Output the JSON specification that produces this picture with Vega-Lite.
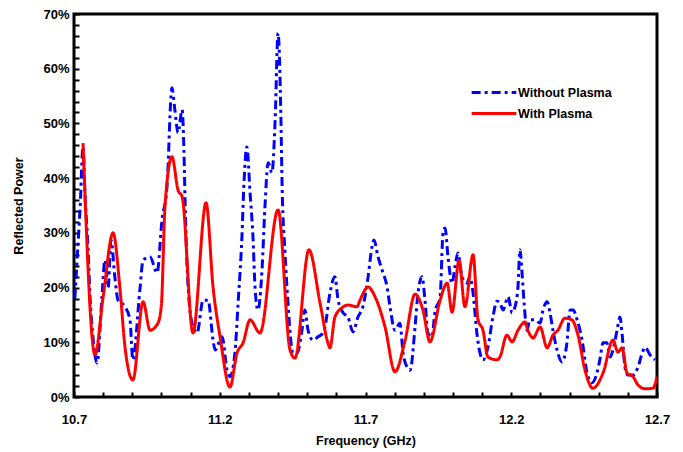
{
  "$schema": "https://vega.github.io/schema/vega-lite/v6.json",
  "autosize": "none",
  "width": 583,
  "height": 383,
  "padding": {"left": 74, "top": 14, "right": 26, "bottom": 55},
  "background": "white",
  "config": {
    "view": {"stroke": "black", "strokeWidth": 3},
    "font": "Liberation Sans",
    "axis": {"grid": false, "domain": false, "labelFont": "Liberation Sans", "labelFontWeight": "bold", "labelFontSize": 13, "labelColor": "black", "titleFont": "Liberation Sans", "titleFontWeight": "bold", "titleFontSize": 12.5, "titleColor": "black", "tickColor": "black", "tickWidth": 2}
  },
  "data": {"values": [
    {"f": 10.703, "v": 18, "s": "Without Plasma"},
    {"f": 10.710, "v": 24.5, "s": "Without Plasma"},
    {"f": 10.721, "v": 34.7, "s": "Without Plasma"},
    {"f": 10.731, "v": 45.7, "s": "Without Plasma"},
    {"f": 10.738, "v": 36.6, "s": "Without Plasma"},
    {"f": 10.748, "v": 27.4, "s": "Without Plasma"},
    {"f": 10.755, "v": 18.3, "s": "Without Plasma"},
    {"f": 10.765, "v": 11, "s": "Without Plasma"},
    {"f": 10.779, "v": 6.2, "s": "Without Plasma"},
    {"f": 10.796, "v": 18.3, "s": "Without Plasma"},
    {"f": 10.806, "v": 25, "s": "Without Plasma"},
    {"f": 10.817, "v": 20, "s": "Without Plasma"},
    {"f": 10.827, "v": 28.7, "s": "Without Plasma"},
    {"f": 10.840, "v": 22, "s": "Without Plasma"},
    {"f": 10.851, "v": 17.7, "s": "Without Plasma"},
    {"f": 10.875, "v": 16.5, "s": "Without Plasma"},
    {"f": 10.892, "v": 14.1, "s": "Without Plasma"},
    {"f": 10.902, "v": 6.8, "s": "Without Plasma"},
    {"f": 10.926, "v": 19.6, "s": "Without Plasma"},
    {"f": 10.937, "v": 25, "s": "Without Plasma"},
    {"f": 10.961, "v": 25.6, "s": "Without Plasma"},
    {"f": 10.985, "v": 22.7, "s": "Without Plasma"},
    {"f": 11.002, "v": 32.4, "s": "Without Plasma"},
    {"f": 11.019, "v": 38.4, "s": "Without Plasma"},
    {"f": 11.036, "v": 56.5, "s": "Without Plasma"},
    {"f": 11.046, "v": 52.5, "s": "Without Plasma"},
    {"f": 11.057, "v": 48.3, "s": "Without Plasma"},
    {"f": 11.071, "v": 52.5, "s": "Without Plasma"},
    {"f": 11.077, "v": 45.2, "s": "Without Plasma"},
    {"f": 11.081, "v": 36, "s": "Without Plasma"},
    {"f": 11.088, "v": 23.8, "s": "Without Plasma"},
    {"f": 11.105, "v": 13.5, "s": "Without Plasma"},
    {"f": 11.122, "v": 11.7, "s": "Without Plasma"},
    {"f": 11.143, "v": 17.7, "s": "Without Plasma"},
    {"f": 11.160, "v": 17.7, "s": "Without Plasma"},
    {"f": 11.177, "v": 10.4, "s": "Without Plasma"},
    {"f": 11.184, "v": 8.6, "s": "Without Plasma"},
    {"f": 11.208, "v": 11, "s": "Without Plasma"},
    {"f": 11.225, "v": 4.9, "s": "Without Plasma"},
    {"f": 11.235, "v": 3.7, "s": "Without Plasma"},
    {"f": 11.252, "v": 8, "s": "Without Plasma"},
    {"f": 11.263, "v": 17.2, "s": "Without Plasma"},
    {"f": 11.276, "v": 29.2, "s": "Without Plasma"},
    {"f": 11.283, "v": 39, "s": "Without Plasma"},
    {"f": 11.293, "v": 45.7, "s": "Without Plasma"},
    {"f": 11.304, "v": 37.3, "s": "Without Plasma"},
    {"f": 11.314, "v": 29.2, "s": "Without Plasma"},
    {"f": 11.321, "v": 20.1, "s": "Without Plasma"},
    {"f": 11.331, "v": 15.9, "s": "Without Plasma"},
    {"f": 11.345, "v": 23.2, "s": "Without Plasma"},
    {"f": 11.355, "v": 34.7, "s": "Without Plasma"},
    {"f": 11.366, "v": 42.8, "s": "Without Plasma"},
    {"f": 11.379, "v": 41, "s": "Without Plasma"},
    {"f": 11.390, "v": 50.6, "s": "Without Plasma"},
    {"f": 11.400, "v": 66.5, "s": "Without Plasma"},
    {"f": 11.410, "v": 50.6, "s": "Without Plasma"},
    {"f": 11.414, "v": 38.4, "s": "Without Plasma"},
    {"f": 11.424, "v": 26.3, "s": "Without Plasma"},
    {"f": 11.434, "v": 17.2, "s": "Without Plasma"},
    {"f": 11.451, "v": 8, "s": "Without Plasma"},
    {"f": 11.465, "v": 8, "s": "Without Plasma"},
    {"f": 11.482, "v": 12.2, "s": "Without Plasma"},
    {"f": 11.492, "v": 15.9, "s": "Without Plasma"},
    {"f": 11.503, "v": 12.2, "s": "Without Plasma"},
    {"f": 11.520, "v": 10.4, "s": "Without Plasma"},
    {"f": 11.537, "v": 11, "s": "Without Plasma"},
    {"f": 11.554, "v": 11.7, "s": "Without Plasma"},
    {"f": 11.561, "v": 12.8, "s": "Without Plasma"},
    {"f": 11.578, "v": 19, "s": "Without Plasma"},
    {"f": 11.595, "v": 22, "s": "Without Plasma"},
    {"f": 11.606, "v": 17.7, "s": "Without Plasma"},
    {"f": 11.623, "v": 15.4, "s": "Without Plasma"},
    {"f": 11.640, "v": 14.6, "s": "Without Plasma"},
    {"f": 11.657, "v": 11.9, "s": "Without Plasma"},
    {"f": 11.674, "v": 14.6, "s": "Without Plasma"},
    {"f": 11.691, "v": 16.5, "s": "Without Plasma"},
    {"f": 11.709, "v": 22, "s": "Without Plasma"},
    {"f": 11.722, "v": 27.4, "s": "Without Plasma"},
    {"f": 11.729, "v": 28.7, "s": "Without Plasma"},
    {"f": 11.743, "v": 25.6, "s": "Without Plasma"},
    {"f": 11.757, "v": 23.2, "s": "Without Plasma"},
    {"f": 11.774, "v": 20.1, "s": "Without Plasma"},
    {"f": 11.784, "v": 16.5, "s": "Without Plasma"},
    {"f": 11.801, "v": 12.2, "s": "Without Plasma"},
    {"f": 11.818, "v": 13.5, "s": "Without Plasma"},
    {"f": 11.829, "v": 8, "s": "Without Plasma"},
    {"f": 11.842, "v": 5.5, "s": "Without Plasma"},
    {"f": 11.853, "v": 4.9, "s": "Without Plasma"},
    {"f": 11.870, "v": 12.8, "s": "Without Plasma"},
    {"f": 11.880, "v": 19, "s": "Without Plasma"},
    {"f": 11.894, "v": 22, "s": "Without Plasma"},
    {"f": 11.904, "v": 17.7, "s": "Without Plasma"},
    {"f": 11.914, "v": 11.7, "s": "Without Plasma"},
    {"f": 11.928, "v": 11, "s": "Without Plasma"},
    {"f": 11.938, "v": 15.4, "s": "Without Plasma"},
    {"f": 11.956, "v": 18.3, "s": "Without Plasma"},
    {"f": 11.966, "v": 30, "s": "Without Plasma"},
    {"f": 11.973, "v": 30.9, "s": "Without Plasma"},
    {"f": 11.983, "v": 25.6, "s": "Without Plasma"},
    {"f": 11.997, "v": 20.8, "s": "Without Plasma"},
    {"f": 12.007, "v": 23.8, "s": "Without Plasma"},
    {"f": 12.017, "v": 26.3, "s": "Without Plasma"},
    {"f": 12.031, "v": 22, "s": "Without Plasma"},
    {"f": 12.048, "v": 20.8, "s": "Without Plasma"},
    {"f": 12.058, "v": 22, "s": "Without Plasma"},
    {"f": 12.069, "v": 19, "s": "Without Plasma"},
    {"f": 12.082, "v": 11.7, "s": "Without Plasma"},
    {"f": 12.093, "v": 8, "s": "Without Plasma"},
    {"f": 12.103, "v": 6.8, "s": "Without Plasma"},
    {"f": 12.120, "v": 9.1, "s": "Without Plasma"},
    {"f": 12.137, "v": 14.6, "s": "Without Plasma"},
    {"f": 12.151, "v": 17.5, "s": "Without Plasma"},
    {"f": 12.161, "v": 17.2, "s": "Without Plasma"},
    {"f": 12.172, "v": 15.9, "s": "Without Plasma"},
    {"f": 12.189, "v": 18.3, "s": "Without Plasma"},
    {"f": 12.203, "v": 15.4, "s": "Without Plasma"},
    {"f": 12.213, "v": 16.5, "s": "Without Plasma"},
    {"f": 12.223, "v": 20.1, "s": "Without Plasma"},
    {"f": 12.230, "v": 26.9, "s": "Without Plasma"},
    {"f": 12.237, "v": 22.7, "s": "Without Plasma"},
    {"f": 12.244, "v": 17.2, "s": "Without Plasma"},
    {"f": 12.254, "v": 12.2, "s": "Without Plasma"},
    {"f": 12.264, "v": 14.1, "s": "Without Plasma"},
    {"f": 12.281, "v": 14.1, "s": "Without Plasma"},
    {"f": 12.299, "v": 13.5, "s": "Without Plasma"},
    {"f": 12.309, "v": 15.9, "s": "Without Plasma"},
    {"f": 12.323, "v": 17.4, "s": "Without Plasma"},
    {"f": 12.333, "v": 15.4, "s": "Without Plasma"},
    {"f": 12.343, "v": 12.2, "s": "Without Plasma"},
    {"f": 12.357, "v": 8.6, "s": "Without Plasma"},
    {"f": 12.374, "v": 6.4, "s": "Without Plasma"},
    {"f": 12.391, "v": 9.9, "s": "Without Plasma"},
    {"f": 12.402, "v": 15.9, "s": "Without Plasma"},
    {"f": 12.412, "v": 15.9, "s": "Without Plasma"},
    {"f": 12.426, "v": 14.1, "s": "Without Plasma"},
    {"f": 12.443, "v": 10.4, "s": "Without Plasma"},
    {"f": 12.460, "v": 4.4, "s": "Without Plasma"},
    {"f": 12.477, "v": 2.6, "s": "Without Plasma"},
    {"f": 12.494, "v": 4.4, "s": "Without Plasma"},
    {"f": 12.504, "v": 6.8, "s": "Without Plasma"},
    {"f": 12.515, "v": 9.9, "s": "Without Plasma"},
    {"f": 12.528, "v": 9.9, "s": "Without Plasma"},
    {"f": 12.539, "v": 7.3, "s": "Without Plasma"},
    {"f": 12.549, "v": 8.6, "s": "Without Plasma"},
    {"f": 12.563, "v": 12.2, "s": "Without Plasma"},
    {"f": 12.573, "v": 14.6, "s": "Without Plasma"},
    {"f": 12.580, "v": 11.7, "s": "Without Plasma"},
    {"f": 12.590, "v": 5.5, "s": "Without Plasma"},
    {"f": 12.600, "v": 4.0, "s": "Without Plasma"},
    {"f": 12.618, "v": 4.0, "s": "Without Plasma"},
    {"f": 12.635, "v": 5.5, "s": "Without Plasma"},
    {"f": 12.649, "v": 8.0, "s": "Without Plasma"},
    {"f": 12.659, "v": 9.1, "s": "Without Plasma"},
    {"f": 12.676, "v": 7.7, "s": "Without Plasma"},
    {"f": 12.693, "v": 6.8, "s": "Without Plasma"},
    {"f": 10.731, "v": 46.4, "s": "With Plasma"},
    {"f": 10.772, "v": 7.7, "s": "With Plasma"},
    {"f": 10.800, "v": 18.3, "s": "With Plasma"},
    {"f": 10.834, "v": 30.0, "s": "With Plasma"},
    {"f": 10.858, "v": 19.6, "s": "With Plasma"},
    {"f": 10.875, "v": 9.1, "s": "With Plasma"},
    {"f": 10.902, "v": 3.1, "s": "With Plasma"},
    {"f": 10.937, "v": 17.4, "s": "With Plasma"},
    {"f": 10.961, "v": 12.2, "s": "With Plasma"},
    {"f": 10.988, "v": 13.5, "s": "With Plasma"},
    {"f": 11.000, "v": 17, "s": "With Plasma"},
    {"f": 11.012, "v": 34.7, "s": "With Plasma"},
    {"f": 11.036, "v": 43.9, "s": "With Plasma"},
    {"f": 11.057, "v": 37.8, "s": "With Plasma"},
    {"f": 11.071, "v": 36.6, "s": "With Plasma"},
    {"f": 11.108, "v": 11.7, "s": "With Plasma"},
    {"f": 11.153, "v": 35.5, "s": "With Plasma"},
    {"f": 11.177, "v": 20.1, "s": "With Plasma"},
    {"f": 11.201, "v": 11.0, "s": "With Plasma"},
    {"f": 11.235, "v": 1.8, "s": "With Plasma"},
    {"f": 11.259, "v": 8.0, "s": "With Plasma"},
    {"f": 11.280, "v": 9.9, "s": "With Plasma"},
    {"f": 11.304, "v": 14.1, "s": "With Plasma"},
    {"f": 11.338, "v": 11.7, "s": "With Plasma"},
    {"f": 11.400, "v": 34.2, "s": "With Plasma"},
    {"f": 11.441, "v": 8.6, "s": "With Plasma"},
    {"f": 11.458, "v": 7.1, "s": "With Plasma"},
    {"f": 11.506, "v": 26.9, "s": "With Plasma"},
    {"f": 11.544, "v": 17.2, "s": "With Plasma"},
    {"f": 11.571, "v": 9.9, "s": "With Plasma"},
    {"f": 11.578, "v": 9.0, "s": "With Plasma"},
    {"f": 11.595, "v": 14.6, "s": "With Plasma"},
    {"f": 11.619, "v": 16.3, "s": "With Plasma"},
    {"f": 11.640, "v": 16.8, "s": "With Plasma"},
    {"f": 11.671, "v": 16.5, "s": "With Plasma"},
    {"f": 11.681, "v": 17.7, "s": "With Plasma"},
    {"f": 11.709, "v": 20.1, "s": "With Plasma"},
    {"f": 11.733, "v": 18.3, "s": "With Plasma"},
    {"f": 11.767, "v": 12.8, "s": "With Plasma"},
    {"f": 11.801, "v": 4.6, "s": "With Plasma"},
    {"f": 11.836, "v": 10.4, "s": "With Plasma"},
    {"f": 11.870, "v": 18.8, "s": "With Plasma"},
    {"f": 11.897, "v": 15.9, "s": "With Plasma"},
    {"f": 11.921, "v": 10.1, "s": "With Plasma"},
    {"f": 11.956, "v": 17.7, "s": "With Plasma"},
    {"f": 11.980, "v": 20.8, "s": "With Plasma"},
    {"f": 11.997, "v": 15.5, "s": "With Plasma"},
    {"f": 12.021, "v": 25.0, "s": "With Plasma"},
    {"f": 12.041, "v": 16.5, "s": "With Plasma"},
    {"f": 12.069, "v": 26.0, "s": "With Plasma"},
    {"f": 12.086, "v": 14.1, "s": "With Plasma"},
    {"f": 12.103, "v": 12.2, "s": "With Plasma"},
    {"f": 12.120, "v": 7.3, "s": "With Plasma"},
    {"f": 12.151, "v": 6.8, "s": "With Plasma"},
    {"f": 12.161, "v": 7.3, "s": "With Plasma"},
    {"f": 12.185, "v": 11.3, "s": "With Plasma"},
    {"f": 12.203, "v": 10.1, "s": "With Plasma"},
    {"f": 12.223, "v": 12.2, "s": "With Plasma"},
    {"f": 12.247, "v": 13.7, "s": "With Plasma"},
    {"f": 12.257, "v": 12.2, "s": "With Plasma"},
    {"f": 12.275, "v": 10.8, "s": "With Plasma"},
    {"f": 12.299, "v": 12.8, "s": "With Plasma"},
    {"f": 12.323, "v": 9.0, "s": "With Plasma"},
    {"f": 12.343, "v": 11.3, "s": "With Plasma"},
    {"f": 12.360, "v": 12.2, "s": "With Plasma"},
    {"f": 12.384, "v": 14.4, "s": "With Plasma"},
    {"f": 12.408, "v": 14.1, "s": "With Plasma"},
    {"f": 12.429, "v": 11.3, "s": "With Plasma"},
    {"f": 12.453, "v": 4.9, "s": "With Plasma"},
    {"f": 12.480, "v": 1.6, "s": "With Plasma"},
    {"f": 12.515, "v": 4.4, "s": "With Plasma"},
    {"f": 12.549, "v": 10.4, "s": "With Plasma"},
    {"f": 12.566, "v": 8.2, "s": "With Plasma"},
    {"f": 12.580, "v": 9.0, "s": "With Plasma"},
    {"f": 12.597, "v": 4.4, "s": "With Plasma"},
    {"f": 12.618, "v": 3.7, "s": "With Plasma"},
    {"f": 12.635, "v": 2.2, "s": "With Plasma"},
    {"f": 12.659, "v": 1.5, "s": "With Plasma"},
    {"f": 12.686, "v": 1.6, "s": "With Plasma"},
    {"f": 12.700, "v": 3.7, "s": "With Plasma"}
  ]},
  "mark": {"type": "line", "strokeWidth": 3, "clip": true, "interpolate": "monotone"},
  "encoding": {
    "x": {
      "field": "f", "type": "quantitative",
      "scale": {"domain": [10.7, 12.7], "nice": false, "zero": false},
      "axis": {
        "title": "Frequency (GHz)",
        "values": [10.7, 10.8, 10.9, 11.0, 11.1, 11.2, 11.3, 11.4, 11.5, 11.6, 11.7, 11.8, 11.9, 12.0, 12.1, 12.2, 12.3, 12.4, 12.5, 12.6, 12.7],
        "labelExpr": "indexof(['10.7','11.2','11.7','12.2','12.7'], format(datum.value, '.1f')) >= 0 ? format(datum.value, '.1f') : ''",
        "tickSize": -5,
        "labelPadding": 21,
        "titlePadding": 8,
        "labelFlush": false
      }
    },
    "y": {
      "field": "v", "type": "quantitative",
      "scale": {"domain": [0, 70], "nice": false},
      "axis": {
        "title": "Reflected Power",
        "values": [0, 2, 4, 6, 8, 10, 12, 14, 16, 18, 20, 22, 24, 26, 28, 30, 32, 34, 36, 38, 40, 42, 44, 46, 48, 50, 52, 54, 56, 58, 60, 62, 64, 66, 68, 70],
        "labelExpr": "datum.value % 10 === 0 ? datum.value + '%' : ''",
        "tickSize": -5,
        "labelPadding": 10,
        "titlePadding": 17
      }
    },
    "color": {
      "field": "s", "type": "nominal", "sort": ["Without Plasma", "With Plasma"],
      "scale": {"domain": ["Without Plasma", "With Plasma"], "range": ["#0000FF", "#FF0000"]},
      "legend": {
        "title": null, "orient": "none", "legendX": 396, "legendY": 72,
        "symbolType": "stroke", "symbolSize": 2000, "symbolStrokeWidth": 3,
        "labelFont": "Liberation Sans", "labelFontWeight": "bold", "labelFontSize": 12.5, "labelColor": "black",
        "clipHeight": 13, "rowPadding": 8, "labelOffset": 0
      }
    },
    "strokeDash": {
      "field": "s", "type": "nominal",
      "scale": {"domain": ["Without Plasma", "With Plasma"], "range": [[9, 4, 3, 4], [1, 0]]},
      "legend": {
        "title": null, "orient": "none", "legendX": 396, "legendY": 72,
        "symbolType": "stroke", "symbolSize": 2000, "symbolStrokeWidth": 3,
        "labelFont": "Liberation Sans", "labelFontWeight": "bold", "labelFontSize": 12.5, "labelColor": "black",
        "clipHeight": 13, "rowPadding": 8, "labelOffset": 0
      }
    }
  }
}
